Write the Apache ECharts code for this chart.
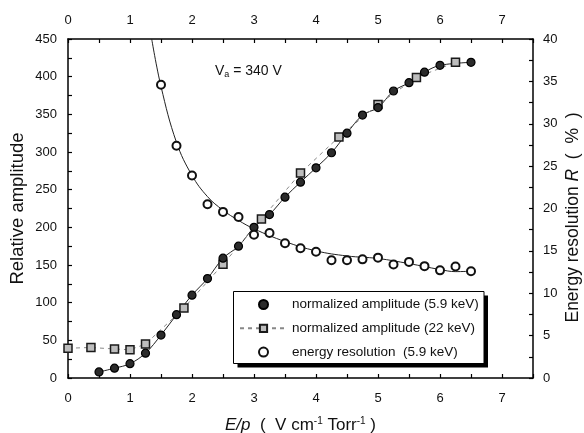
<!DOCTYPE html>
<html>
<head>
<meta charset="utf-8">
<script src="https://cdn.jsdelivr.net/npm/echarts@6/dist/echarts.min.js"></script>
<style>
html, body { margin: 0; padding: 0; background: #fff; }
#chart { width: 584px; height: 433px; }
</style>
</head>
<body>
<div id="chart"></div>
<script>
// normalized amplitude, 5.9 keV (filled circles)
var ampX = [0.5, 0.75, 1, 1.25, 1.5, 1.75, 2, 2.25, 2.5, 2.75, 3, 3.25, 3.5, 3.75, 4, 4.25, 4.5, 4.75, 5, 5.25, 5.5, 5.75, 6, 6.5];
var amp59 = [8, 13, 19, 33, 57, 84, 110, 132, 159, 175, 200, 217, 240, 260, 279, 299, 325, 349, 359, 381, 392, 406, 415, 419];

// normalized amplitude, 22 keV (squares)
var sqX = [0, 0.37, 0.75, 1, 1.25, 1.87, 2.5, 3.12, 3.75, 4.37, 5, 5.62, 6.25];
var amp22 = [39.5, 40.5, 38.5, 37.5, 45, 93, 151, 211, 272, 320, 363, 399, 419];

// energy resolution (open circles), right axis
var resX = [1.5, 1.75, 2, 2.25, 2.5, 2.75, 3, 3.25, 3.5, 3.75, 4, 4.25, 4.5, 4.75, 5, 5.25, 5.5, 5.75, 6, 6.25, 6.5];
var resR = [34.6, 27.4, 23.9, 20.5, 19.6, 19.0, 16.9, 17.1, 15.9, 15.3, 14.9, 13.9, 13.9, 14.0, 14.2, 13.4, 13.7, 13.2, 12.7, 13.15, 12.6];

// fitted curve for the resolution
var fitX = [1.35, 1.5, 1.75, 2, 2.25, 2.5, 2.75, 3, 3.5, 4, 4.5, 5, 5.5, 6, 6.25, 6.5];
var fitR = [40, 34.4, 27.8, 23.9, 21.4, 19.8, 18.6, 17.6, 16.1, 15.0, 14.4, 14.1, 13.5, 12.8, 12.55, 12.6];

function pairs(xs, ys) {
    var out = [];
    for (var i = 0; i < xs.length; i++) {
        out.push([xs[i], ys[i]]);
    }
    return out;
}

var FONT = 'Liberation Sans';
var black = '#111';

var xLabel = function (v) {
    return (v % 1 === 0 && v < 7.5) ? String(v) : '';
};

var xBase = {
    type: 'value', min: 0, max: 7.5, interval: 0.5,
    axisLine: { show: true, onZero: false, lineStyle: { color: '#000', width: 1.5 } },
    axisTick: { show: true, inside: true, length: 4, lineStyle: { color: '#000', width: 1.2 } },
    splitLine: { show: false }
};

var myChart = echarts.init(document.getElementById('chart'));

var option = {
    animation: false,
    textStyle: { fontFamily: FONT },
    grid: { left: 68, right: 51, top: 39, bottom: 55, containLabel: false, outerBoundsMode: 'none' },
    xAxis: [
        Object.assign({}, xBase, {
            position: 'bottom',
            axisLabel: { formatter: xLabel, margin: 14, fontSize: 13, color: black, fontFamily: FONT },
            name: '{i|E/p}{t|  (  V cm}{s|-1}{t| Torr}{s|-1}{t| )}',
            nameLocation: 'middle',
            nameGap: 38,
            nameMoveOverlap: false,
            nameTextStyle: {
                rich: {
                    i: { fontSize: 17, fontStyle: 'italic', color: black, fontFamily: FONT, lineHeight: 18 },
                    t: { fontSize: 17, color: black, fontFamily: FONT, lineHeight: 18 },
                    s: { fontSize: 10, color: black, fontFamily: FONT, verticalAlign: 'top', lineHeight: 10 }
                }
            }
        }),
        Object.assign({}, xBase, {
            position: 'top',
            axisLabel: { formatter: xLabel, margin: 12, fontSize: 13, color: black, fontFamily: FONT }
        })
    ],
    yAxis: [
        {
            type: 'value', min: 0, max: 450, interval: 50, position: 'left',
            axisLine: { show: true, onZero: false, lineStyle: { color: '#000', width: 1.5 } },
            axisTick: { show: true, inside: true, length: 4, lineStyle: { color: '#000', width: 1.2 } },
            minorTick: { show: true, splitNumber: 2, length: 4, lineStyle: { color: '#000', width: 1.2 } },
            splitLine: { show: false },
            axisLabel: { margin: 11, fontSize: 13, color: black, fontFamily: FONT },
            name: 'Relative amplitude',
            nameLocation: 'middle',
            nameGap: 41,
            nameMoveOverlap: false,
            nameTextStyle: { fontSize: 18.5, color: black, fontFamily: FONT }
        },
        {
            type: 'value', min: 0, max: 40, interval: 5, position: 'right',
            axisLine: { show: true, onZero: false, lineStyle: { color: '#000', width: 1.5 } },
            axisTick: { show: true, inside: true, length: 4, lineStyle: { color: '#000', width: 1.2 } },
            minorTick: { show: true, splitNumber: 2, length: 4, lineStyle: { color: '#000', width: 1.2 } },
            splitLine: { show: false },
            axisLabel: { margin: 10, fontSize: 13, color: black, fontFamily: FONT },
            name: '{t|Energy resolution }{i|R}{t|  (  %  )}',
            nameLocation: 'middle',
            nameGap: 31,
            nameMoveOverlap: false,
            nameTextStyle: {
                padding: [0, 18, 0, 0],
                rich: {
                    t: { fontSize: 17.5, color: black, fontFamily: FONT },
                    i: { fontSize: 17.5, fontStyle: 'italic', color: black, fontFamily: FONT }
                }
            }
        }
    ],
    legend: {
        orient: 'vertical',
        left: 239,
        top: 297.5,
        padding: 0,
        itemWidth: 47,
        itemHeight: 9,
        itemGap: 9.8,
        textStyle: { fontSize: 13.5, color: black, fontFamily: FONT },
        data: ['normalized amplitude (5.9 keV)', 'normalized amplitude (22 keV)', 'energy resolution  (5.9 keV)']
    },
    graphic: [
        {
            // legend frame with its hard drop shadow
            type: 'rect',
            z: 0,
            shape: { x: 237.5, y: 295.5, width: 250.5, height: 72 },
            style: { fill: '#000' }
        },
        {
            type: 'rect',
            z: 1,
            shape: { x: 233.5, y: 291.5, width: 250.5, height: 72 },
            style: { fill: '#fff', stroke: '#000', lineWidth: 1 }
        },
        {
            type: 'text',
            z: 1,
            left: 215,
            top: 64,
            style: {
                text: '{v|V}{s|a}{v| = 340 V}',
                rich: {
                    v: { fontSize: 14, fill: black, fontFamily: FONT, lineHeight: 16 },
                    s: { fontSize: 9, fill: black, fontFamily: FONT, verticalAlign: 'bottom', lineHeight: 9 }
                }
            }
        }
    ],
    series: [
        {
            // fit through the 5.9 keV amplitude points
            type: 'line',
            data: pairs(ampX, amp59),
            smooth: 0.35,
            showSymbol: false,
            silent: true,
            lineStyle: { color: '#222', width: 1 },
            z: 2
        },
        {
            // fit through the energy resolution points
            type: 'line',
            yAxisIndex: 1,
            data: pairs(fitX, fitR),
            smooth: 0.4,
            showSymbol: false,
            silent: true,
            lineStyle: { color: '#222', width: 1 },
            z: 2
        },
        {
            name: 'normalized amplitude (22 keV)',
            type: 'line',
            data: pairs(sqX, amp22),
            symbol: 'rect',
            symbolSize: 8,
            lineStyle: { color: '#888', width: 1, type: [4, 4] },
            itemStyle: { color: '#bdbdbd', borderColor: '#1a1a1a', borderWidth: 1.5 },
            z: 3
        },
        {
            name: 'normalized amplitude (5.9 keV)',
            type: 'scatter',
            data: pairs(ampX, amp59),
            symbol: 'circle',
            symbolSize: 8,
            itemStyle: { color: '#2b2b2b', borderColor: '#000', borderWidth: 1.2, opacity: 1 },
            z: 4
        },
        {
            name: 'energy resolution  (5.9 keV)',
            type: 'scatter',
            yAxisIndex: 1,
            data: pairs(resX, resR),
            symbol: 'circle',
            symbolSize: 8,
            itemStyle: { color: '#fff', borderColor: '#111', borderWidth: 2, opacity: 1 },
            z: 4
        }
    ]
};

myChart.setOption(option);
</script>
</body>
</html>
